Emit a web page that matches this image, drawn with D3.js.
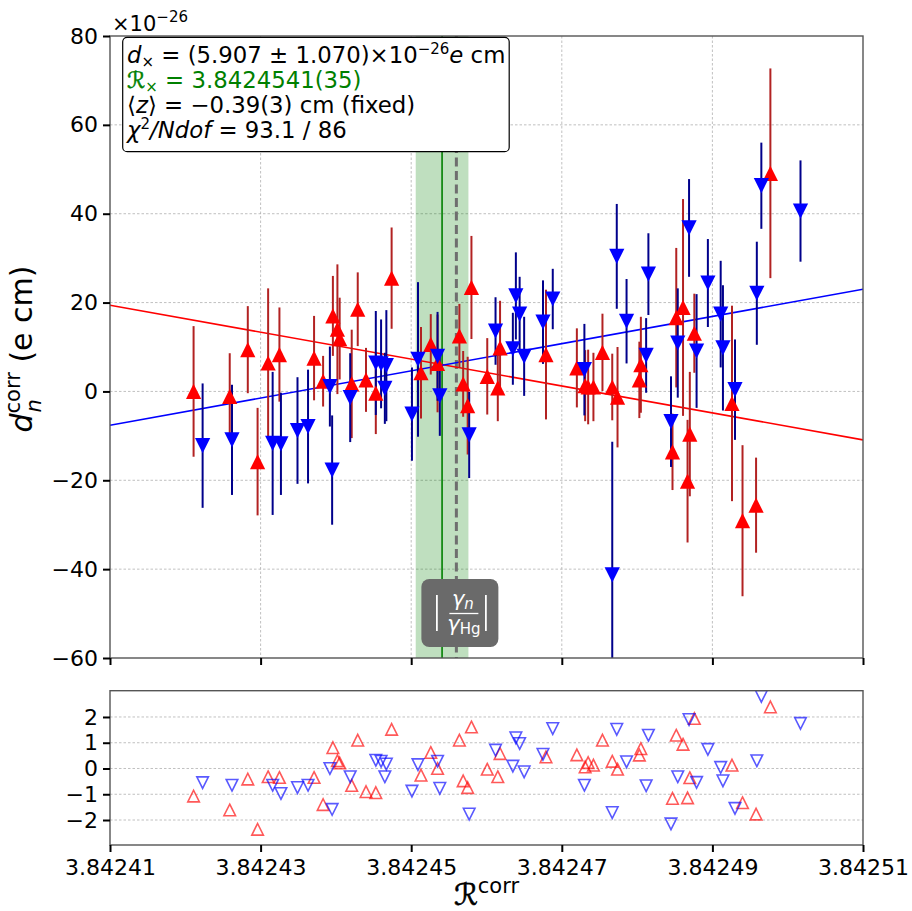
<!DOCTYPE html>
<html><head><meta charset="utf-8">
<script src="https://cdn.jsdelivr.net/npm/d3@7"></script>
<style>body{margin:0;background:#fff} text{font-family:"DejaVu Sans",sans-serif}</style>
</head><body><svg id="c" width="912" height="911"></svg>
<script>
// ---------- data ----------
const redR = [3.8424211,3.8424259,3.8424283,3.8424296,3.8424310,3.8424325,3.8424371,3.8424383,3.8424396,3.8424402,3.8424405,3.8424421,3.8424429,3.8424440,3.8424453,3.8424474,3.8424513,3.8424526,3.8424535,3.8424564,3.8424569,3.8424575,3.8424580,3.8424601,3.8424615,3.8424618,3.8424679,3.8424720,3.8424731,3.8424735,3.8424742,3.8424754,3.8424767,3.8424774,3.8424805,3.8424803,3.8424847,3.8424852,3.8424861,3.8424867,3.8424870,3.8424876,3.8424926,3.8424940,3.8424958,3.8424977];
const redD = [0.0,-1.1,9.4,-15.8,6.4,8.3,7.5,2.3,17.0,14.0,11.9,1.7,18.5,2.6,-0.4,25.5,4.2,10.6,6.3,12.5,1.7,-3.2,23.4,3.4,0.8,9.8,8.3,5.3,1.3,1.0,1.0,8.8,1.0,-1.3,6.0,2.6,-13.6,16.6,18.9,-20.2,-9.6,13.1,-2.7,-29.1,-25.6,49.1];
const redE = [14.7,9.7,9.8,12.1,16.8,10.6,9.5,5.7,9.0,14.6,9.2,12.2,8.3,7.2,9.2,11.4,10.3,6.8,11.0,7.2,7.4,11.0,11.6,8.6,7.5,10.6,14.6,8.9,8.0,8.4,7.7,8.7,7.5,11.3,10.8,8.6,8.6,15.7,24.4,13.8,14.0,8.9,22.0,17.0,10.7,23.6];
const redRes = [-1.07,-1.61,-0.41,-2.36,-0.32,-0.35,-0.35,-1.40,0.81,0.30,0.22,-0.66,1.10,-0.90,-0.94,1.52,-0.26,0.62,0.0,1.10,-0.48,-0.74,1.61,-0.03,-0.32,0.58,0.45,0.53,0.06,0.23,0.13,1.10,0.28,-0.03,0.77,0.52,-1.16,1.29,0.94,-1.14,-0.36,1.94,0.13,-1.33,-1.77,2.39];

const blueR = [3.8424223,3.8424262,3.8424316,3.8424327,3.8424349,3.8424363,3.8424392,3.8424395,3.8424419,3.8424453,3.8424460,3.8424467,3.8424465,3.8424501,3.8424509,3.8424535,3.8424538,3.8424577,3.8424612,3.8424635,3.8424639,3.8424644,3.8424650,3.8424675,3.8424688,3.8424730,3.8424767,3.8424773,3.8424786,3.8424812,3.8424815,3.8424845,3.8424854,3.8424869,3.8424879,3.8424894,3.8424911,3.8424914,3.8424930,3.8424959,3.8424965,3.8425017];
const blueD = [-12.2,-10.9,-11.7,-11.8,-8.8,-7.9,1.1,-17.7,-1.4,6.4,6.2,5.8,0.7,-5.1,7.2,7.9,-1.0,-9.8,13.6,9.6,21.5,17.4,7.9,15.6,20.8,4.9,-41.3,30.4,15.8,8.1,26.4,-6.8,10.9,36.8,9.1,24.4,17.4,9.8,0.4,22.1,46.3,40.6];
const blueE = [14.0,12.4,16.1,11.5,12.0,12.8,9.0,12.3,10.0,11.7,10.0,12.5,8.0,10.5,17.4,10.0,9.0,9.7,7.6,8.1,9.8,8.4,8.9,9.4,6.8,10.3,30.0,11.8,9.5,8.4,9.2,10.2,12.3,11.0,12.8,9.9,12.0,14.1,11.3,11.6,9.7,11.4];
const blueRes = [-0.55,-0.65,-0.65,-0.97,-0.74,-0.65,0.0,-1.59,-0.32,0.32,0.28,0.17,-0.32,-0.88,0.15,0.28,-0.77,-1.77,0.71,0.09,1.19,0.97,-0.13,0.55,1.55,-0.65,-1.71,1.52,0.26,-0.67,1.29,-2.15,-0.32,1.90,-0.54,0.74,0.04,-0.48,-1.55,0.30,2.80,1.75];

const xTicks = [3.84241,3.84243,3.84245,3.84247,3.84249,3.84251];
const yTicksMain = [-60,-40,-20,0,20,40,60,80];
const yTicksRes = [-2,-1,0,1,2];
const xDomain = [3.84241,3.84251];
const yDomainMain = [-60,80];
const yDomainRes = [-2.97,3.02];
const fitRedEnds = [19.4,-10.9];
const fitBlueEnds = [-7.6,23.0];
const Rx = 3.8424541, RxErr = 0.0000035, Rhg = 3.842456;

// ---------- layout ----------
const svg = d3.select("#c");
const L = 110, Rt = 863, T = 36, B = 658, T2 = 690.7, B2 = 845;
const FS = 22, LFS = 22.8;
const x = d3.scaleLinear().domain(xDomain).range([L,Rt]);
const y = d3.scaleLinear().domain(yDomainMain).range([B,T]);
const yr = d3.scaleLinear().domain(yDomainRes).range([B2,T2]);

const defs = svg.append("defs");
defs.append("clipPath").attr("id","cm").append("rect").attr("x",L).attr("y",T).attr("width",Rt-L).attr("height",B-T);
defs.append("clipPath").attr("id","cr").append("rect").attr("x",L).attr("y",T2).attr("width",Rt-L).attr("height",B2-T2);

const tri = (up,s)=> up ? `M0,${-s}L${s},${s}L${-s},${s}Z` : `M0,${s}L${s},${-s}L${-s},${-s}Z`;
const gridCol = "#b0b0b0";

// ---------- main panel ----------
const gm = svg.append("g");
const grid = gm.append("g").attr("stroke",gridCol).attr("stroke-width",0.8).attr("stroke-dasharray","2.5,2");
yTicksMain.slice(1,-1).forEach(v=>grid.append("line").attr("x1",L).attr("x2",Rt).attr("y1",y(v)).attr("y2",y(v)));
xTicks.slice(1,-1).forEach(v=>grid.append("line").attr("x1",x(v)).attr("x2",x(v)).attr("y1",T).attr("y2",B));

const pm = gm.append("g").attr("clip-path","url(#cm)");
pm.append("rect").attr("x",x(Rx-RxErr)).attr("width",x(Rx+RxErr)-x(Rx-RxErr)).attr("y",T).attr("height",B-T)
  .attr("fill","green").attr("fill-opacity",0.25);
pm.append("line").attr("x1",x(Rx)).attr("x2",x(Rx)).attr("y1",T).attr("y2",B).attr("stroke","green").attr("stroke-width",1.6);
pm.append("line").attr("x1",x(Rhg)).attr("x2",x(Rhg)).attr("y1",T).attr("y2",B).attr("stroke","#6e6e6e").attr("stroke-width",3).attr("stroke-dasharray","9,4.5");

pm.append("line").attr("x1",x(xDomain[0])).attr("x2",x(xDomain[1])).attr("y1",y(fitRedEnds[0])).attr("y2",y(fitRedEnds[1])).attr("stroke","red").attr("stroke-width",1.6);
pm.append("line").attr("x1",x(xDomain[0])).attr("x2",x(xDomain[1])).attr("y1",y(fitBlueEnds[0])).attr("y2",y(fitBlueEnds[1])).attr("stroke","blue").attr("stroke-width",1.6);

const redIdx = d3.range(redR.length), blueIdx = d3.range(blueR.length);
pm.append("g").selectAll("line").data(redIdx).join("line")
  .attr("x1",i=>x(redR[i])).attr("x2",i=>x(redR[i])).attr("y1",i=>y(redD[i]-redE[i])).attr("y2",i=>y(redD[i]+redE[i]))
  .attr("stroke","#b22222").attr("stroke-width",2);
pm.append("g").selectAll("line").data(blueIdx).join("line")
  .attr("x1",i=>x(blueR[i])).attr("x2",i=>x(blueR[i])).attr("y1",i=>y(blueD[i]-blueE[i])).attr("y2",i=>y(blueD[i]+blueE[i]))
  .attr("stroke","#00008b").attr("stroke-width",2);
pm.append("g").selectAll("path").data(redIdx).join("path")
  .attr("transform",i=>`translate(${x(redR[i])},${y(redD[i])})`).attr("d",tri(true,7.6)).attr("fill","red");
pm.append("g").selectAll("path").data(blueIdx).join("path")
  .attr("transform",i=>`translate(${x(blueR[i])},${y(blueD[i])})`).attr("d",tri(false,7.6)).attr("fill","blue");

gm.append("rect").attr("x",L).attr("y",T).attr("width",Rt-L).attr("height",B-T).attr("fill","none").attr("stroke","#555").attr("stroke-width",1.4);

const fmtY = d3.format("d");
const ay = gm.append("g").attr("transform",`translate(${L},0)`)
  .call(d3.axisLeft(y).tickValues(yTicksMain).tickSize(7).tickPadding(5).tickFormat(fmtY));
const ax = gm.append("g").attr("transform",`translate(0,${B})`)
  .call(d3.axisBottom(x).tickValues(xTicks).tickSize(7).tickFormat(""));
[ay,ax].forEach(a=>{a.select(".domain").remove(); a.selectAll("line").attr("stroke","#000").attr("stroke-width",2);
  a.selectAll("text").attr("font-size",FS).attr("fill","#000").attr("font-family","DejaVu Sans");});

// offset text
const off = svg.append("text").attr("x",112).attr("y",31).attr("font-size",FS-1);
off.append("tspan").text("×10");
off.append("tspan").attr("dy",-9).attr("font-size",15).text("−26");

// legend box
const lg = svg.append("g");
lg.append("rect").attr("x",122.7).attr("y",37.3).attr("width",386.5).attr("height",114.4).attr("rx",4.5)
  .attr("fill","#fff").attr("stroke","#000").attr("stroke-width",1.2);
const lx = 127;
const t1 = lg.append("text").attr("x",lx).attr("y",63).attr("font-size",LFS);
t1.append("tspan").attr("font-style","italic").text("d");
t1.append("tspan").attr("dy",4).attr("font-size",15).text("×");
t1.append("tspan").attr("dy",-4).text(" = (5.907 ± 1.070)×10");
t1.append("tspan").attr("dy",-9).attr("font-size",15).text("−26");
t1.append("tspan").attr("dy",9).attr("font-style","italic").text("e");
t1.append("tspan").text(" cm");
const t2 = lg.append("text").attr("x",lx).attr("y",87.5).attr("font-size",LFS).attr("fill","green");
t2.append("tspan").attr("stroke","green").attr("stroke-width",0.5).text("ℛ");
t2.append("tspan").attr("dy",4).attr("font-size",15).text("×");
t2.append("tspan").attr("dy",-4).text(" = 3.8424541(35)");
const t3 = lg.append("text").attr("x",lx).attr("y",112.5).attr("font-size",LFS);
t3.append("tspan").text("⟨");
t3.append("tspan").attr("font-style","italic").text("z");
t3.append("tspan").text("⟩ = −0.39(3) cm (fixed)");
const t4 = lg.append("text").attr("x",lx).attr("y",138).attr("font-size",LFS);
t4.append("tspan").attr("font-style","italic").text("χ");
t4.append("tspan").attr("dy",-9).attr("font-size",15).text("2");
t4.append("tspan").attr("dy",9).attr("font-style","italic").text("/Ndof");
t4.append("tspan").text(" = 93.1 / 86");

// gamma ratio label box
const bx = x(Rhg)+3.5;
const gb = svg.append("g");
gb.append("rect").attr("x",bx-38.5).attr("y",579).attr("width",77).attr("height",68).attr("rx",8).attr("fill","#6a6a6a");
gb.append("line").attr("x1",bx-23).attr("x2",bx-23).attr("y1",595).attr("y2",631).attr("stroke","#fff").attr("stroke-width",1.8);
gb.append("line").attr("x1",bx+26).attr("x2",bx+26).attr("y1",595).attr("y2",631).attr("stroke","#fff").attr("stroke-width",1.8);
gb.append("line").attr("x1",bx-10.5).attr("x2",bx+18.5).attr("y1",613.5).attr("y2",613.5).attr("stroke","#fff").attr("stroke-width",1.3);
const num = gb.append("text").attr("x",bx+3).attr("y",606).attr("text-anchor","middle").attr("fill","#fff").attr("font-size",21);
num.append("tspan").attr("font-style","italic").text("γ");
num.append("tspan").attr("dy",3).attr("font-size",15).attr("font-style","italic").text("n");
const den = gb.append("text").attr("x",bx+4).attr("y",631).attr("text-anchor","middle").attr("fill","#fff").attr("font-size",21);
den.append("tspan").attr("font-style","italic").text("γ");
den.append("tspan").attr("dy",3).attr("font-size",15).text("Hg");

// y label
const yl = svg.append("g").attr("transform","translate(32,349) rotate(-90)");
const ylt = yl.append("text").attr("x",0).attr("y",0).attr("text-anchor","middle").attr("font-size",30);
ylt.append("tspan").attr("font-style","italic").text("d");
ylt.append("tspan").attr("dy",-12).attr("font-size",21).text("corr");
ylt.append("tspan").attr("dy",12).text(" (e cm)");
{
  const p = ylt.node().getStartPositionOfChar(1);
  yl.append("text").attr("x",p.x+1).attr("y",9).attr("font-size",21).attr("font-style","italic").text("n");
}

// ---------- residual panel ----------
const gr = svg.append("g");
const grid2 = gr.append("g").attr("stroke",gridCol).attr("stroke-width",0.8).attr("stroke-dasharray","2.5,2");
yTicksRes.forEach(v=>grid2.append("line").attr("x1",L).attr("x2",Rt).attr("y1",yr(v)).attr("y2",yr(v)));
const pr = gr.append("g").attr("clip-path","url(#cr)");
pr.append("g").selectAll("path").data(redIdx).join("path")
  .attr("transform",i=>`translate(${x(redR[i])},${yr(redRes[i])})`).attr("d",tri(true,5.8))
  .attr("fill","none").attr("stroke","red").attr("stroke-opacity",0.65).attr("stroke-width",1.6);
pr.append("g").selectAll("path").data(blueIdx).join("path")
  .attr("transform",i=>`translate(${x(blueR[i])},${yr(blueRes[i])})`).attr("d",tri(false,5.8))
  .attr("fill","none").attr("stroke","blue").attr("stroke-opacity",0.65).attr("stroke-width",1.6);
gr.append("rect").attr("x",L).attr("y",T2).attr("width",Rt-L).attr("height",B2-T2).attr("fill","none").attr("stroke","#555").attr("stroke-width",1.4);
const ay2 = gr.append("g").attr("transform",`translate(${L},0)`)
  .call(d3.axisLeft(yr).tickValues(yTicksRes).tickSize(7).tickPadding(5).tickFormat(fmtY));
const ax2 = gr.append("g").attr("transform",`translate(0,${B2})`)
  .call(d3.axisBottom(x).tickValues(xTicks).tickSize(7).tickPadding(7).tickFormat(d3.format(".5f")));
[ay2,ax2].forEach(a=>{a.select(".domain").remove(); a.selectAll("line").attr("stroke","#000").attr("stroke-width",2);
  a.selectAll("text").attr("font-size",FS).attr("fill","#000").attr("font-family","DejaVu Sans");});

// x label
const xl = svg.append("text").attr("x",(L+Rt)/2).attr("y",905).attr("text-anchor","middle").attr("font-size",30);
xl.append("tspan").attr("stroke","#000").attr("stroke-width",0.6).text("ℛ");
xl.append("tspan").attr("dy",-12).attr("font-size",21).text("corr");
</script></body></html>
